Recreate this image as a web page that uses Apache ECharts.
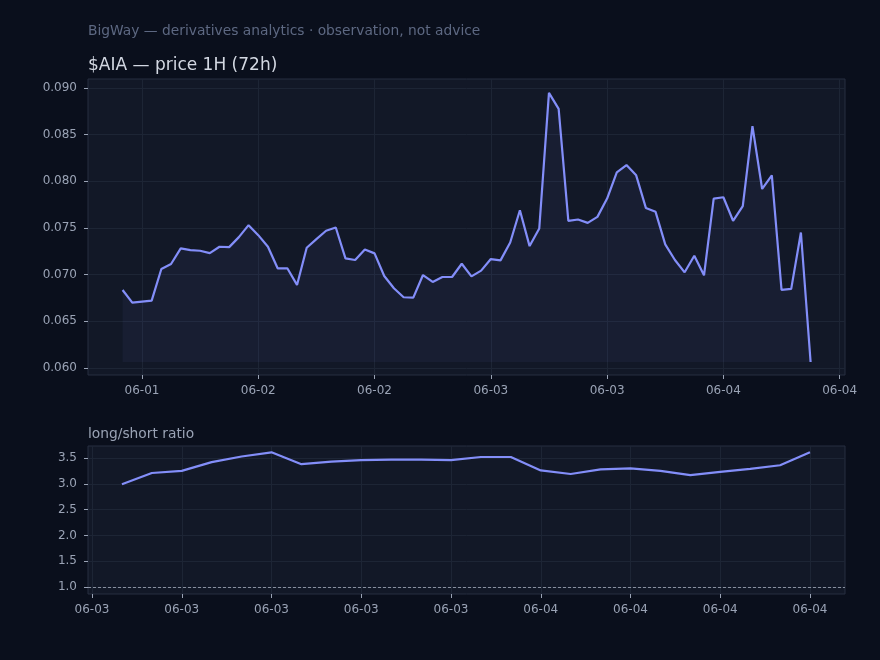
<!DOCTYPE html>
<html>
<head>
<meta charset="utf-8">
<script src="https://cdn.jsdelivr.net/npm/echarts@6/dist/echarts.min.js"></script>
<style>
  html, body { margin: 0; padding: 0; background: #0a0f1c; }
  #chart { width: 880px; height: 660px; }
</style>
</head>
<body>
<div id="chart"></div>
<script>
// hourly price, 06-01 10:00 -> 06-04 09:00 (hours counted from 06-01 00:00)
const priceStartHour = 10;
const price = [
  0.06836, 0.06701, 0.06712, 0.06722, 0.07061, 0.07114, 0.07281, 0.07263, 0.07256, 0.07231,
  0.07299, 0.07295, 0.07402, 0.07530, 0.07423, 0.07299, 0.07068, 0.07068, 0.06890, 0.07288,
  0.07381, 0.07470, 0.07505, 0.07174, 0.07157, 0.07270, 0.07228, 0.06986, 0.06854, 0.06758,
  0.06754, 0.06996, 0.06922, 0.06975, 0.06975, 0.07117, 0.06982, 0.07043, 0.07167, 0.07153,
  0.07345, 0.07690, 0.07306, 0.07495, 0.08947, 0.08776, 0.07577, 0.07591, 0.07555, 0.07619,
  0.07815, 0.08096, 0.08174, 0.08064, 0.07715, 0.07673, 0.07324, 0.07157, 0.07025, 0.07203,
  0.06993, 0.07815, 0.07829, 0.07577, 0.07733, 0.08591, 0.07918, 0.08064, 0.06836, 0.06847,
  0.07452, 0.06064
];
const priceTicksX = [12, 24, 36, 48, 60, 72, 84];
const priceTicksY = [0.060, 0.065, 0.070, 0.075, 0.080, 0.085, 0.090];

// hourly long/short ratio, 06-03 10:00 -> 06-04 09:00 (hours counted from 06-03 00:00)
const ratioStartHour = 10;
const ratio = [
  2.99, 3.21, 3.25, 3.42, 3.53, 3.61, 3.38, 3.43, 3.46, 3.47,
  3.47, 3.46, 3.52, 3.52, 3.26, 3.19, 3.28, 3.30, 3.25, 3.17,
  3.23, 3.29, 3.36, 3.61
];
const ratioTicksX = [9, 12, 15, 18, 21, 24, 27, 30, 33];
const ratioTicksY = [1.0, 1.5, 2.0, 2.5, 3.0, 3.5];

const FONT = "DejaVu Sans";
const LINE = "#838ef9";
const LABEL = "#9aa3b5";
const GRIDLINE = "#1d2535";

const dayLabel = (base) => (v) => "06-" + String(base + Math.floor(v / 24)).padStart(2, "0");

function xAxis(gridIndex, min, max, ticks, fmt) {
  return {
    type: "value", gridIndex, min, max,
    axisLine: { show: false },
    axisTick: { show: true, length: 4, lineStyle: { color: LABEL }, customValues: ticks },
    axisLabel: { color: LABEL, fontFamily: FONT, fontSize: 12, margin: 10, customValues: ticks, formatter: fmt },
    splitLine: { show: true, lineStyle: { color: GRIDLINE, width: 1 } },
  };
}

function yAxis(gridIndex, min, max, ticks, digits) {
  return {
    type: "value", gridIndex, min, max,
    axisLine: { show: false },
    axisTick: { show: true, length: 4, lineStyle: { color: LABEL }, customValues: ticks },
    axisLabel: { color: LABEL, fontFamily: FONT, fontSize: 12, margin: 11, customValues: ticks,
      formatter: (v) => v.toFixed(digits) },
    splitLine: { show: true, lineStyle: { color: GRIDLINE, width: 1 } },
  };
}

const chart = echarts.init(document.getElementById("chart"));
chart.setOption({
  backgroundColor: "#0a0f1c",
  animation: false,
  title: [
    { text: "BigWay — derivatives analytics · observation, not advice", left: 88, top: 24, padding: 0,
      textStyle: { color: "#5d6882", fontFamily: FONT, fontSize: 13.8, fontWeight: "normal" } },
    { text: "$AIA — price 1H (72h)", left: 88, top: 57, padding: 0,
      textStyle: { color: "#d3d8e2", fontFamily: FONT, fontSize: 17, fontWeight: "normal" } },
    { text: "long/short ratio", left: 88, top: 427, padding: 0,
      textStyle: { color: "#9aa3b5", fontFamily: FONT, fontSize: 13.8, fontWeight: "normal" } },
  ],
  grid: [
    { left: 88, top: 79, width: 757, height: 296, show: true,
      backgroundColor: "#121827", borderColor: "#262f40", borderWidth: 1 },
    { left: 88, top: 446, width: 757, height: 148, show: true,
      backgroundColor: "#121827", borderColor: "#262f40", borderWidth: 1 },
  ],
  xAxis: [
    xAxis(0, 6.43, 84.55, priceTicksX, dayLabel(1)),
    xAxis(1, 8.866, 34.17, ratioTicksX, dayLabel(3)),
  ],
  yAxis: [
    yAxis(0, 0.05925, 0.09096, priceTicksY, 3),
    yAxis(1, 0.864, 3.733, ratioTicksY, 1),
  ],
  series: [
    {
      type: "line", xAxisIndex: 0, yAxisIndex: 0,
      data: price.map((v, i) => [priceStartHour + i, v]),
      showSymbol: false,
      lineStyle: { color: LINE, width: 2.2 },
      areaStyle: { color: "rgba(129,140,248,0.08)", origin: Math.min(...price) },
    },
    {
      type: "line", xAxisIndex: 1, yAxisIndex: 1,
      data: ratio.map((v, i) => [ratioStartHour + i, v]),
      showSymbol: false,
      lineStyle: { color: LINE, width: 2.2 },
      markLine: {
        silent: true, symbol: "none", label: { show: false },
        lineStyle: { color: "#a3abbb", type: [3, 2], width: 0.8 },
        data: [{ yAxis: 1.0 }],
      },
    },
  ],
});
</script>
</body>
</html>
